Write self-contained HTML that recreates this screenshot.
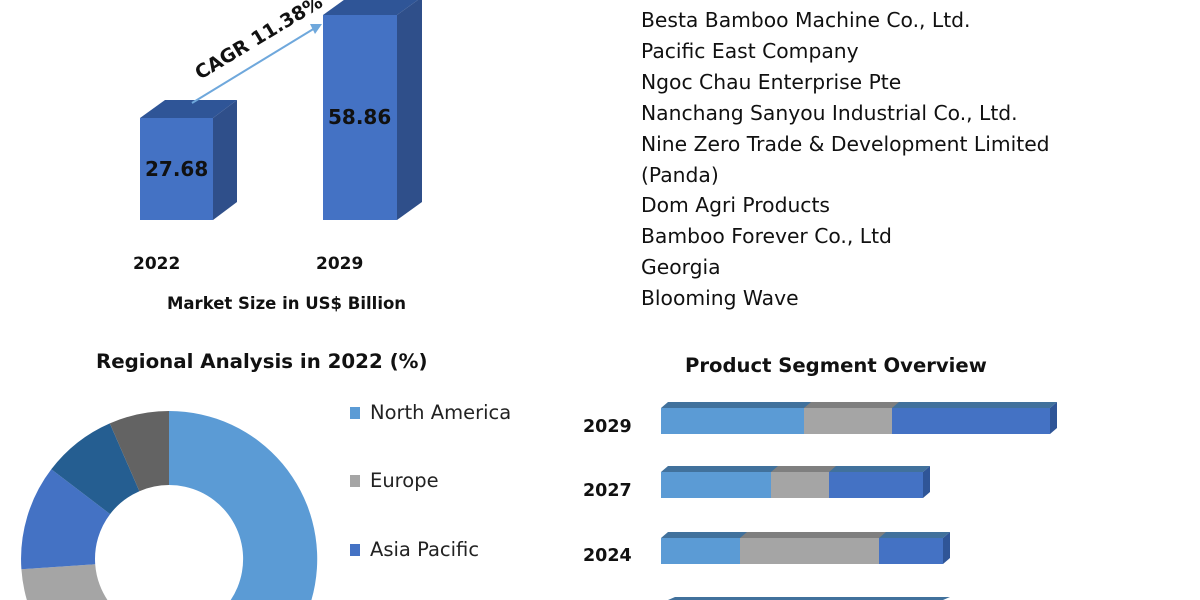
<!DOCTYPE html>
<html><head><style>
html,body{margin:0;width:1200px;height:600px;overflow:hidden}
body{background:#fff;font-family:"DejaVu Sans",sans-serif;position:relative}
.t{position:absolute;white-space:nowrap}
.c{font-size:20.3px;color:#111;left:641px}
.b{font-weight:bold;color:#111}
</style></head><body>
<svg width="1200" height="600" style="position:absolute;left:0;top:0">
<polygon points="140,118 165,100 237,100 213,118" fill="#2f5597"/>
<polygon points="213,118 237,100 237,202 213,220" fill="#2f4f8a"/>
<rect x="140" y="118" width="73" height="102" fill="#4472c4"/>
<polygon points="323,15 348,-3 422,-3 397,15" fill="#2f5597"/>
<polygon points="397,15 422,-3 422,202 397,220" fill="#2f4f8a"/>
<rect x="323" y="15" width="74" height="205" fill="#4472c4"/>
<line x1="192" y1="103" x2="315" y2="28" stroke="#6fa8dc" stroke-width="2"/>
<polygon points="322,24 310,24 315,34" fill="#6fa8dc"/>
<text x="200" y="80" transform="rotate(-31 200 80)" font-family="DejaVu Sans" font-weight="bold" font-size="19" fill="#111">CAGR 11.38%</text>
<g transform="translate(169,559)">
<path d="M0,-148 A148,148 0 1 1 -50.6,139 L-25.3,69.5 A74,74 0 1 0 0,-74Z" fill="#5b9bd5"/>
<path d="M-50.6,139 A148,148 0 0 1 -147.6,10.3 L-73.8,5.2 A74,74 0 0 0 -25.3,69.5Z" fill="#a5a5a5"/>
<path d="M-147.6,10.3 A148,148 0 0 1 -117.7,-89.7 L-58.9,-44.9 A74,74 0 0 0 -73.8,5.2Z" fill="#4472c4"/>
<path d="M-117.7,-89.7 A148,148 0 0 1 -59.2,-135.6 L-29.6,-67.8 A74,74 0 0 0 -58.9,-44.9Z" fill="#255e91"/>
<path d="M-59.2,-135.6 A148,148 0 0 1 0,-148 L0,-74 A74,74 0 0 0 -29.6,-67.8Z" fill="#636363"/>
</g>
<rect x="350" y="407" width="10" height="12" fill="#5b9bd5"/>
<rect x="350" y="475" width="10" height="12" fill="#a5a5a5"/>
<rect x="350" y="544" width="10" height="12" fill="#4472c4"/>
<polygon points="661,408 668,402 1057,402 1050,408" fill="#41719c"/>
<polygon points="804,408 811,402 899,402 892,408" fill="#7f7f7f"/>
<rect x="661" y="408" width="143" height="26" fill="#5b9bd5"/><rect x="804" y="408" width="88" height="26" fill="#a5a5a5"/><rect x="892" y="408" width="158" height="26" fill="#4472c4"/>
<polygon points="1050,408 1057,402 1057,428 1050,434" fill="#2f5597"/>
<polygon points="661,472 668,466 930,466 923,472" fill="#41719c"/>
<polygon points="771,472 778,466 836,466 829,472" fill="#7f7f7f"/>
<rect x="661" y="472" width="110" height="26" fill="#5b9bd5"/><rect x="771" y="472" width="58" height="26" fill="#a5a5a5"/><rect x="829" y="472" width="94" height="26" fill="#4472c4"/>
<polygon points="923,472 930,466 930,492 923,498" fill="#2f5597"/>
<polygon points="661,538 668,532 950,532 943,538" fill="#41719c"/>
<polygon points="740,538 747,532 886,532 879,538" fill="#7f7f7f"/>
<rect x="661" y="538" width="79" height="26" fill="#5b9bd5"/><rect x="740" y="538" width="139" height="26" fill="#a5a5a5"/><rect x="879" y="538" width="64" height="26" fill="#4472c4"/>
<polygon points="943,538 950,532 950,558 943,564" fill="#2f5597"/>
<polygon points="668,600 675,597 950,597 943,600" fill="#41719c"/>
</svg>
<div class="t b" style="left:145px;top:157px;font-size:20px">27.68</div>
<div class="t b" style="left:328px;top:105px;font-size:20px">58.86</div>
<div class="t b" style="left:133px;top:254px;font-size:17px">2022</div>
<div class="t b" style="left:316px;top:254px;font-size:17px">2029</div>
<div class="t b" style="left:167px;top:294px;font-size:16.5px">Market Size in US$ Billion</div>
<div class="t b" style="left:96px;top:350px;font-size:19.8px">Regional Analysis in 2022 (%)</div>
<div class="t" style="left:370px;top:401px;font-size:19.5px;color:#222">North America</div>
<div class="t" style="left:370px;top:469px;font-size:19.5px;color:#222">Europe</div>
<div class="t" style="left:370px;top:538px;font-size:19.5px;color:#222">Asia Pacific</div>
<div class="t b" style="left:685px;top:354px;font-size:19.6px">Product Segment Overview</div>
<div class="t b" style="left:583px;top:417px;font-size:17.5px">2029</div>
<div class="t b" style="left:583px;top:481px;font-size:17.5px">2027</div>
<div class="t b" style="left:583px;top:546px;font-size:17.5px">2024</div>
<div class="t c" style="top:8px">Besta Bamboo Machine Co., Ltd.</div>
<div class="t c" style="top:39px">Pacific East Company</div>
<div class="t c" style="top:70px">Ngoc Chau Enterprise Pte</div>
<div class="t c" style="top:101px">Nanchang Sanyou Industrial Co., Ltd.</div>
<div class="t c" style="top:132px">Nine Zero Trade &amp; Development Limited</div>
<div class="t c" style="top:163px">(Panda)</div>
<div class="t c" style="top:193px">Dom Agri Products</div>
<div class="t c" style="top:224px">Bamboo Forever Co., Ltd</div>
<div class="t c" style="top:255px">Georgia</div>
<div class="t c" style="top:286px">Blooming Wave</div>
</body></html>
